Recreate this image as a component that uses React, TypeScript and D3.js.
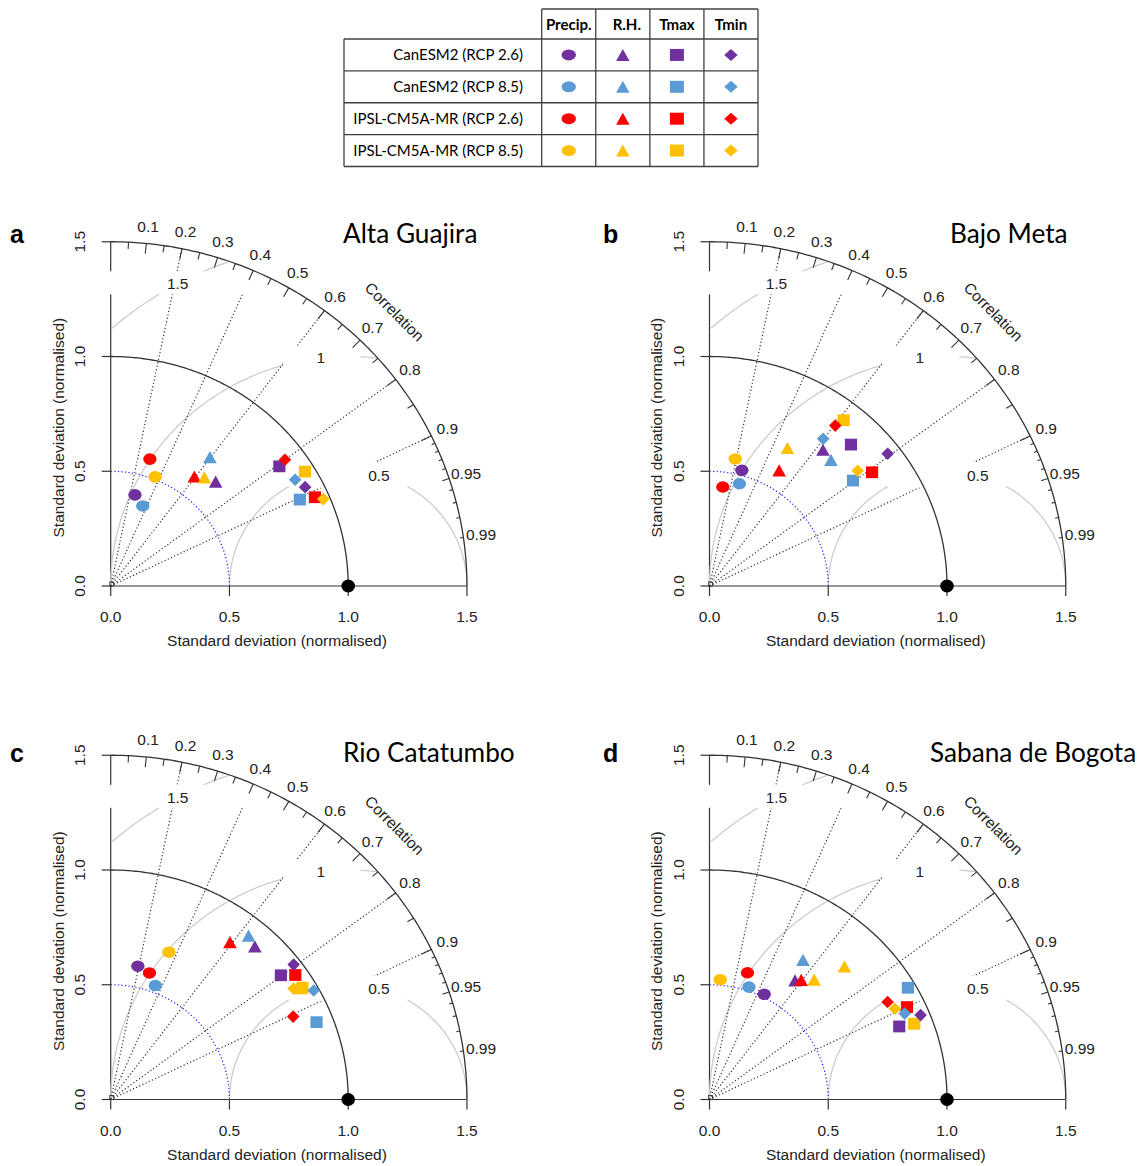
import * as d3 from "d3";

const models = [
  "CanESM2 (RCP 2.6)",
  "CanESM2 (RCP 8.5)",
  "IPSL-CM5A-MR (RCP 2.6)",
  "IPSL-CM5A-MR (RCP 8.5)"
];
const modelColors = ["#7030A0", "#5B9BD5", "#FF0000", "#FFC000"];
const variables = ["Precip.", "R.H.", "Tmax", "Tmin"];
const variableShapes = ["circle", "triangle", "square", "diamond"];

// normalised standard deviation / correlation; rows = variables, columns = models
const altaGuajiraSd = [
  [0.41, 0.374, 0.577, 0.511],
  [0.634, 0.7, 0.593, 0.616],
  [0.881, 0.881, 0.943, 0.958],
  [0.925, 0.904, 0.917, 0.972]
];
const altaGuajiraCor = [
  [0.249, 0.361, 0.286, 0.366],
  [0.697, 0.597, 0.594, 0.64],
  [0.806, 0.904, 0.912, 0.854],
  [0.885, 0.859, 0.8, 0.921]
];
const bajoMetaSd = [
  [0.522, 0.463, 0.435, 0.564],
  [0.762, 0.751, 0.583, 0.685],
  [0.857, 0.759, 0.845, 0.917],
  [0.946, 0.8, 0.877, 0.801]
];
const bajoMetaCor = [
  [0.261, 0.272, 0.129, 0.192],
  [0.627, 0.681, 0.503, 0.479],
  [0.695, 0.796, 0.81, 0.616],
  [0.793, 0.598, 0.604, 0.779]
];
const rioCatatumboSd = [
  [0.592, 0.531, 0.575, 0.687],
  [0.902, 0.92, 0.85, 0.936],
  [0.898, 0.93, 0.948, 0.943],
  [0.969, 0.978, 0.849, 0.909]
];
const rioCatatumboCor = [
  [0.193, 0.354, 0.284, 0.357],
  [0.673, 0.631, 0.591, 0.855],
  [0.798, 0.932, 0.82, 0.856],
  [0.795, 0.874, 0.905, 0.847]
];
const sabanaSd = [
  [0.513, 0.517, 0.575, 0.524],
  [0.632, 0.725, 0.649, 0.683],
  [0.86, 0.967, 0.924, 0.923],
  [0.962, 0.903, 0.862, 0.875]
];
const sabanaCor = [
  [0.449, 0.321, 0.278, 0.086],
  [0.57, 0.543, 0.595, 0.645],
  [0.929, 0.864, 0.9, 0.934],
  [0.924, 0.91, 0.87, 0.892]
];
// panel d shows a second IPSL-CM5A-MR (RCP 8.5) R.H. triangle
const sabanaExtraRhSd = [0.812];
const sabanaExtraRhCor = [0.7];

const sdTicks = [0, 0.5, 1, 1.5];
const corrLabels = [0.1, 0.2, 0.3, 0.4, 0.5, 0.6, 0.7, 0.8, 0.9, 0.95, 0.99];
const corrBigTicks = [0.1, 0.2, 0.3, 0.4, 0.5, 0.6, 0.7, 0.8, 0.9];
const corrMedTicks = [0.05, 0.15, 0.25, 0.35, 0.45, 0.55, 0.65, 0.75, 0.85, 0.95];
const corrSmallTicks = [0.91, 0.92, 0.93, 0.94, 0.96, 0.97, 0.98, 0.99];
const corrRays = [0.2, 0.4, 0.6, 0.8, 0.9];
const rmsLevels = [0.5, 1, 1.5];
const rmsLabelAngles = [75, 96.6, 118.6];

const UX = 237.5;
const UY = 229.5;
const MAXSD = 1.5;
const axisFont = "'Liberation Sans', Arial, sans-serif";
const boxFont = "Lato, 'Open Sans', sans-serif";
const ink = "#333";

interface PanelSpec {
  letter: string;
  title: string;
  ox: number;
  oy: number;
  titleX: number;
  letterX: number;
  baseY: number;
  sd: number[][];
  cor: number[][];
  extraSd?: number[];
  extraCor?: number[];
}

const panels: PanelSpec[] = [
  { letter: "a", title: "Alta Guajira", ox: 110.7, oy: 586, titleX: 343, letterX: 10, baseY: 243, sd: altaGuajiraSd, cor: altaGuajiraCor },
  { letter: "b", title: "Bajo Meta", ox: 709.5, oy: 586, titleX: 950, letterX: 603, baseY: 243, sd: bajoMetaSd, cor: bajoMetaCor },
  { letter: "c", title: "Rio Catatumbo", ox: 110.7, oy: 1099.5, titleX: 343, letterX: 10, baseY: 762, sd: rioCatatumboSd, cor: rioCatatumboCor },
  {
    letter: "d", title: "Sabana de Bogota", ox: 709.5, oy: 1099.5, titleX: 930, letterX: 603, baseY: 762,
    sd: sabanaSd, cor: sabanaCor, extraSd: sabanaExtraRhSd, extraCor: sabanaExtraRhCor
  }
];

function Marker({ shape, color, cx, cy, w, h }: { shape: string; color: string; cx: number; cy: number; w: number; h: number }) {
  const hw = w / 2;
  const hh = h / 2;
  if (shape === "circle") {
    return <ellipse cx={cx} cy={cy} rx={hw} ry={hh} fill={color} />;
  }
  let d = "";
  if (shape === "triangle") d = `M0,${-hh}L${hw},${hh}L${-hw},${hh}Z`;
  if (shape === "square") d = `M${-hw},${-hh}H${hw}V${hh}H${-hw}Z`;
  if (shape === "diamond") d = `M0,${-hh}L${hw},0L0,${hh}L${-hw},0Z`;
  return <path d={d} transform={`translate(${cx},${cy})`} fill={color} />;
}

const markerSize: Record<string, [number, number]> = {
  circle: [13.4, 11.6],
  triangle: [13.6, 12.2],
  square: [12.2, 11.8],
  diamond: [12.6, 12.6]
};

function TaylorPanel({ panel }: { panel: PanelSpec }) {
  const x = d3.scaleLinear().domain([0, MAXSD]).range([panel.ox, panel.ox + MAXSD * UX]);
  const y = d3.scaleLinear().domain([0, MAXSD]).range([panel.oy, panel.oy - MAXSD * UY]);
  const line = d3.line<[number, number]>().x((d) => x(d[0])).y((d) => y(d[1]));
  const rad = (deg: number) => (deg * Math.PI) / 180;
  const onRay = (r: number, c: number): [number, number] => [r * c, r * Math.sqrt(1 - c * c)];
  const sdArc = (r: number) =>
    line(d3.range(0, 90.25, 0.5).map((a) => [r * Math.cos(rad(a)), r * Math.sin(rad(a))] as [number, number])) ?? "";
  const rmsArc = (g: number) =>
    line(
      d3
        .range(0, 180.25, 0.5)
        .map((a) => [1 + g * Math.cos(rad(a)), g * Math.sin(rad(a))] as [number, number])
        .filter((p) => p[0] >= 0 && p[0] * p[0] + p[1] * p[1] <= MAXSD * MAXSD + 1e-9)
    ) ?? "";

  // white label boxes that cut the contour and ray lines
  const labelBoxes = [
    { x0: 0.75, x1: 1.25, y0: 0.428, y1: 0.54 },
    { x0: 0.726, x1: 1.052, y0: 0.955, y1: 1.044 },
    { x0: -0.015, x1: 0.6, y0: 1.271, y1: 1.371 }
  ];

  const points: { shape: string; color: string; sd: number; cor: number; key: string }[] = [];
  variables.forEach((v, vi) => {
    models.forEach((m, mi) => {
      points.push({ shape: variableShapes[vi], color: modelColors[mi], sd: panel.sd[vi][mi], cor: panel.cor[vi][mi], key: `${v}-${m}` });
    });
    if (vi === 1 && panel.extraSd && panel.extraCor) {
      panel.extraSd.forEach((s, i) => {
        points.push({ shape: "triangle", color: modelColors[3], sd: s, cor: panel.extraCor![i], key: `extra-${i}` });
      });
    }
  });

  const corrTick = (c: number, inner: number, k: string) => {
    const [a, b] = onRay(MAXSD, c);
    const [a2, b2] = onRay(MAXSD * inner, c);
    return <line key={k} x1={x(a)} y1={y(b)} x2={x(a2)} y2={y(b2)} stroke={ink} strokeWidth={1.1} />;
  };

  return (
    <g>
      {/* sd axes */}
      <line x1={x(0)} y1={y(0)} x2={x(0)} y2={y(MAXSD)} stroke={ink} strokeWidth={1.2} />
      <line x1={x(0)} y1={y(0)} x2={x(MAXSD)} y2={y(0)} stroke={ink} strokeWidth={1.2} />
      {sdTicks.map((t) => (
        <g key={`t${t}`}>
          <line x1={x(0)} y1={y(t)} x2={x(0) - 9} y2={y(t)} stroke={ink} strokeWidth={1.2} />
          <line x1={x(t)} y1={y(0)} x2={x(t)} y2={y(0) + 10} stroke={ink} strokeWidth={1.2} />
          <text
            x={x(0) - 31}
            y={y(t)}
            dy="0.35em"
            transform={`rotate(-90 ${x(0) - 31} ${y(t)})`}
            textAnchor="middle"
            fontSize={15.5}
            fontFamily={axisFont}
            fill="#222"
          >
            {t.toFixed(1)}
          </text>
          <text x={x(t)} y={y(0) + 36} textAnchor="middle" fontSize={15.5} fontFamily={axisFont} fill="#222">
            {t.toFixed(1)}
          </text>
        </g>
      ))}
      <text x={x(0.7)} y={y(0) + 60} textAnchor="middle" fontSize={15.5} fontFamily={axisFont} fill="#222">
        Standard deviation (normalised)
      </text>
      <text
        x={x(0) - 47}
        y={y(0.69)}
        transform={`rotate(-90 ${x(0) - 47} ${y(0.69)})`}
        textAnchor="middle"
        fontSize={15.5}
        fontFamily={axisFont}
        fill="#222"
      >
        Standard deviation (normalised)
      </text>

      {/* centred RMS contours */}
      {rmsLevels.map((g) => (
        <path key={`g${g}`} d={rmsArc(g)} fill="none" stroke="#cdcdcd" strokeWidth={1.3} />
      ))}
      {/* correlation rays */}
      {corrRays.map((c) => {
        const [a, b] = onRay(MAXSD, c);
        return (
          <line key={`r${c}`} x1={x(0)} y1={y(0)} x2={x(a)} y2={y(b)} stroke={ink} strokeWidth={1.2} strokeDasharray="1.2 2.3" />
        );
      })}
      <path d={sdArc(0.5)} fill="none" stroke="#2020ff" strokeWidth={1.2} strokeDasharray="1.2 2.3" />

      {labelBoxes.map((b, i) => (
        <rect key={`box${i}`} x={x(b.x0)} y={y(b.y1)} width={x(b.x1) - x(b.x0)} height={y(b.y0) - y(b.y1)} fill="#fff" />
      ))}
      {rmsLevels.map((g, i) => (
        <text
          key={`gl${g}`}
          x={x(1 + g * Math.cos(rad(rmsLabelAngles[i])))}
          y={y(g * Math.sin(rad(rmsLabelAngles[i])))}
          dy="0.35em"
          textAnchor="middle"
          fontSize={15.5}
          fontFamily={axisFont}
          fill="#222"
        >
          {g}
        </text>
      ))}

      {/* sd arcs */}
      <path d={sdArc(1)} fill="none" stroke={ink} strokeWidth={1.3} />
      <path d={sdArc(MAXSD)} fill="none" stroke={ink} strokeWidth={1.3} />
      {corrBigTicks.map((c) => corrTick(c, 0.97, `bt${c}`))}
      {corrMedTicks.map((c) => corrTick(c, 0.98, `mt${c}`))}
      {corrSmallTicks.map((c) => corrTick(c, 0.99, `st${c}`))}
      {corrLabels.map((c) => {
        const [a, b] = onRay(MAXSD * 1.05, c);
        return (
          <text key={`cl${c}`} x={x(a)} y={y(b)} dy="0.35em" textAnchor="middle" fontSize={15.5} fontFamily={axisFont} fill="#222">
            {c}
          </text>
        );
      })}
      <text
        x={x(1.69 * Math.cos(rad(45)))}
        y={y(1.69 * Math.sin(rad(45)))}
        dy="0.35em"
        transform={`rotate(45 ${x(1.69 * Math.cos(rad(45)))} ${y(1.69 * Math.sin(rad(45)))})`}
        textAnchor="middle"
        fontSize={15.5}
        fontFamily={axisFont}
        fill="#222"
      >
        Correlation
      </text>

      <rect x={x(0) - 1} y={y(0) - 4} width={4} height={4} fill="none" stroke={ink} strokeWidth={0.8} />
      <ellipse cx={x(1)} cy={y(0)} rx={6.8} ry={6.5} fill="#000" />

      {points.map((p) => {
        const [a, b] = onRay(p.sd, p.cor);
        const [w, h] = markerSize[p.shape];
        return <Marker key={p.key} shape={p.shape} color={p.color} cx={x(a)} cy={y(b)} w={w} h={h} />;
      })}

      <text x={panel.letterX} y={panel.baseY} fontSize={25} fontWeight="bold" fontFamily={axisFont} fill="#000">
        {panel.letter}
      </text>
      <text x={panel.titleX} y={panel.baseY} fontSize={26.2} fontFamily={boxFont} fill="#000">
        {panel.title}
      </text>
    </g>
  );
}

function LegendTable() {
  const left = 344;
  const labelRight = 541.7;
  const right = 758;
  const top = 9;
  const headerBottom = 39;
  const bottom = 166.5;
  const col = d3.scaleBand<string>().domain(variables).range([labelRight, right]);
  const row = d3.scaleBand<string>().domain(models).range([headerBottom, bottom]);
  const legendSize: Record<string, [number, number]> = {
    circle: [14.4, 11],
    triangle: [13.5, 12],
    square: [14, 12],
    diamond: [13.5, 12]
  };
  return (
    <g>
      <g stroke="#404040" strokeWidth={1.3} fill="none">
        <line x1={labelRight} y1={top} x2={right} y2={top} />
        {models.map((m) => (
          <line key={m} x1={left} y1={row(m)!} x2={right} y2={row(m)!} />
        ))}
        <line x1={left} y1={bottom} x2={right} y2={bottom} />
        <line x1={left} y1={headerBottom} x2={left} y2={bottom} />
        {variables.map((v) => (
          <line key={v} x1={col(v)!} y1={top} x2={col(v)!} y2={bottom} />
        ))}
        <line x1={right} y1={top} x2={right} y2={bottom} />
      </g>
      {variables.map((v) => (
        <text
          key={v}
          x={col(v)! + col.bandwidth() / 2 + (v === "R.H." ? 4 : 0)}
          y={30}
          textAnchor="middle"
          fontSize={15}
          fontWeight="bold"
          fontFamily={boxFont}
          fill="#000"
        >
          {v}
        </text>
      ))}
      {models.map((m, mi) => (
        <g key={m}>
          <text
            x={523}
            y={row(m)! + row.bandwidth() / 2}
            dy="0.35em"
            textAnchor="end"
            fontSize={15}
            fontFamily={boxFont}
            fill="#000"
          >
            {m}
          </text>
          {variables.map((v, vi) => {
            const shape = variableShapes[vi];
            const [w, h] = legendSize[shape];
            return (
              <Marker
                key={v}
                shape={shape}
                color={modelColors[mi]}
                cx={col(v)! + col.bandwidth() / 2}
                cy={row(m)! + row.bandwidth() / 2}
                w={w}
                h={h}
              />
            );
          })}
        </g>
      ))}
    </g>
  );
}

export default function App() {
  return (
    <svg
      width={1141}
      height={1166}
      viewBox="0 0 1141 1166"
      style={{ position: "absolute", left: 0, top: 0, display: "block", background: "#fff" }}
    >
      <rect width={1141} height={1166} fill="#fff" />
      <LegendTable />
      {panels.map((p) => (
        <TaylorPanel key={p.letter} panel={p} />
      ))}
    </svg>
  );
}
